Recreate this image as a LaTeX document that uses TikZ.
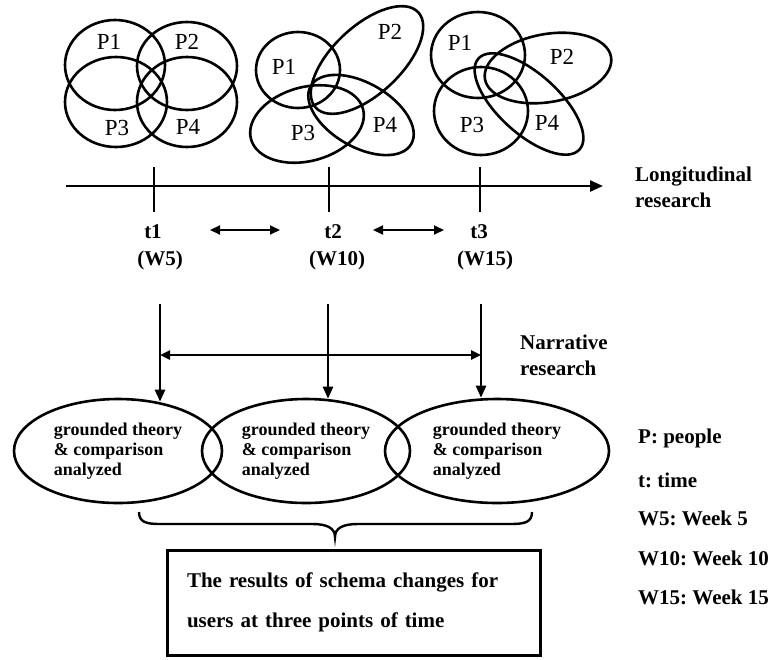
\documentclass[tikz,border=0pt]{standalone}
\usepackage{fontspec}
\setmainfont{Liberation Serif}
\usepackage{xcolor}
\usepackage{tikz}
\usetikzlibrary{shapes.geometric, arrows.meta, positioning, calc}
\frenchspacing

\begin{document}
\begin{tikzpicture}[
  x=1pt, y=-1pt,
  venn/.style={line width=2.6pt},
  plabel/.style={font=\fontsize{23}{26}\selectfont, inner sep=0pt},
  tlabel/.style={font=\fontsize{21}{24}\selectfont\bfseries, inner sep=0pt},
  side/.style={font=\fontsize{21}{26}\selectfont\bfseries, align=left, anchor=west, inner sep=0pt},
  legendtxt/.style={font=\fontsize{21}{24}\selectfont\bfseries, anchor=west, inner sep=0pt},
  phase/.style={draw, ellipse, line width=2.6pt, minimum width=208pt, minimum height=104pt, inner sep=0pt, align=left, font=\fontsize{18}{20}\selectfont\bfseries},
  result/.style={draw, line width=3pt, minimum height=105pt, text width=333pt, inner xsep=20pt, align=left, font=\fontsize{21}{40}\selectfont\bfseries},
  timeline/.style={-{Triangle[length=13pt,width=11pt]}, line width=2.6pt},
  tickline/.style={line width=2.4pt},
  arr/.style={-{Triangle[length=12pt,width=10pt]}, line width=2.4pt},
  darr/.style={{Triangle[length=10pt,width=9pt]}-{Triangle[length=10pt,width=9pt]}, line width=1.8pt}
]
  \useasboundingbox (0,0) rectangle (781,659);

  % Venn groups
  \draw[venn] (115,65) ellipse (50 and 45);
  \draw[venn] (187,66) ellipse (50 and 44);
  \draw[venn] (116,102) ellipse (51 and 45);
  \draw[venn] (187,102) ellipse (50 and 45);
  \node[plabel] (p11) at (109,42) {P1};
  \node[plabel] (p12) at (187,42) {P2};
  \node[plabel] (p13) at (117,128) {P3};
  \node[plabel] (p14) at (188,127) {P4};

  \draw[venn] (298,70) ellipse (42 and 38);
  \draw[venn, rotate around={43:(367,60)}] (367,60) ellipse (70 and 34);
  \draw[venn, rotate around={15:(307,124)}] (307,124) ellipse (58 and 37);
  \draw[venn, rotate around={-30:(361,115)}] (361,115) ellipse (58 and 32);
  \node[plabel] (p21) at (284,67) {P1};
  \node[plabel] (p22) at (390,32) {P2};
  \node[plabel] (p23) at (303,133) {P3};
  \node[plabel] (p24) at (385,125) {P4};

  \draw[venn] (478,55) ellipse (47 and 43);
  \draw[venn, rotate around={10:(548,68)}] (548,68) ellipse (64 and 34);
  \draw[venn] (481,111) ellipse (47 and 44);
  \draw[venn, rotate around={-42:(529,104)}] (529,104) ellipse (68 and 30);
  \node[plabel] (p31) at (460,43) {P1};
  \node[plabel] (p32) at (562,57) {P2};
  \node[plabel] (p33) at (472,125) {P3};
  \node[plabel] (p34) at (547,123) {P4};

  % Time line
  \coordinate (ax0) at (66,186);
  \coordinate (ax1) at (603,186);
  \draw[timeline] (ax0) -- (ax1);
  \draw[tickline] (154,167) -- (154,212);
  \draw[tickline] (329,167) -- (329,212);
  \draw[tickline] (480,167) -- (480,212);

  \node[tlabel] (t1) at (153,232) {t1};
  \node[tlabel] (w5) at (160,260) {(W5)};
  \node[tlabel] (t2) at (333,232) {t2};
  \node[tlabel] (w10) at (337,260) {(W10)};
  \node[tlabel] (t3) at (479,232) {t3};
  \node[tlabel] (w15) at (485,260) {(W15)};

  \coordinate (s1) at (210,230);
  \coordinate (s2) at (280,230);
  \coordinate (s3) at (373,230);
  \coordinate (s4) at (444,230);
  \draw[darr] (s1) -- (s2);
  \draw[darr] (s3) -- (s4);

  \node[side] (long) at (635,187) {Longitudinal\\research};

  % Phases
  \node[phase] (e1) at (118,451) {grounded theory\\\& comparison\\analyzed};
  \node[phase] (e2) at (306,451) {grounded theory\\\& comparison\\analyzed};
  \node[phase, minimum width=224pt] (e3) at (497,451) {grounded theory\\\& comparison\\analyzed};

  % Arrows
  \coordinate (d1) at (160,304);
  \coordinate (d2) at (328,304);
  \coordinate (d3) at (481,304);
  \draw[arr] (d1) -- ([yshift=-4pt]d1 |- e1.north);
  \draw[arr] (d2) -- ([yshift=-1pt]d2 |- e2.north);
  \draw[arr] (d3) -- (d3 |- e3.north);

  \coordinate (n1) at (160,355);
  \coordinate (n3) at (481,355);
  \draw[darr, line width=2.4pt] (n1) -- (n3);
  \node[side] (narr) at (520,355) {Narrative\\research};

  % Brace and result
  \coordinate (b1) at (139,512);
  \coordinate (b2) at (532,512);
  \coordinate (btip) at (335,537);
  \draw[line width=2.4pt] (b1) .. controls (139,522) and (146,524) .. (160,524) -- (312,524)
    .. controls (327,524) and (335,528) .. (btip)
    .. controls (335,528) and (343,524) .. (358,524) -- (511,524)
    .. controls (525,524) and (532,522) .. (b2);
  \node[result] (res) at (353.5,602.5) {The results of schema changes for\\users at three points of time};

  % Legend
  \node[legendtxt] (lp) at (638,438) {P: people};
  \node[legendtxt] (lt) at (638,480) {t: time};
  \node[legendtxt] (l5) at (638,518) {W5: Week 5};
  \node[legendtxt] (l10) at (638,558) {W10: Week 10};
  \node[legendtxt] (l15) at (638,597) {W15: Week 15};
\end{tikzpicture}
\end{document}
